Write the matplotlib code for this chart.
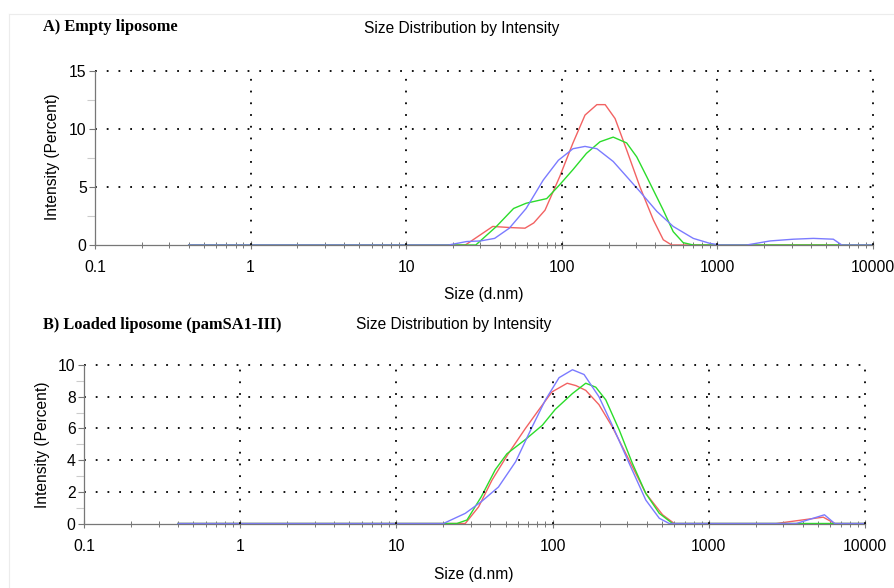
import numpy as np
import matplotlib
matplotlib.use('Agg')
import matplotlib.pyplot as plt
from matplotlib.lines import Line2D
from matplotlib.ticker import FixedLocator, NullFormatter

plt.rcParams['font.family'] = ['Liberation Sans', 'DejaVu Sans']

# Panel A: empty liposome (three runs)
size_a_red = [0.4, 24, 36, 47, 58, 66, 78, 97, 118, 141, 168, 190, 220, 261, 318, 388, 449, 508, 10000]
int_a_red = [0, 0, 1.6, 1.5, 1.45, 1.9, 3.0, 5.9, 8.8, 11.2, 12.1, 12.1, 10.9, 8.2, 5.0, 2.15, 0.45, 0, 0]
size_a_green = [0.4, 28, 38, 49, 59, 80, 97, 118, 144, 176, 214, 261, 303, 351, 449, 520, 603, 700, 10000]
int_a_green = [0, 0, 1.6, 3.15, 3.6, 4.0, 5.2, 6.5, 7.9, 8.9, 9.3, 8.8, 7.6, 5.9, 3.0, 1.15, 0.2, 0, 0]
size_a_blue = [0.4, 18.7, 24.5, 30, 37, 46, 59, 76, 95, 118, 141, 168, 214, 261, 318, 408, 520, 700,
               895, 1040, 1540, 2180, 3080, 4140, 5560, 6300, 10000]
int_a_blue = [0, 0, 0.3, 0.35, 0.57, 1.45, 3.15, 5.6, 7.3, 8.3, 8.5, 8.3, 7.2, 5.9, 4.6, 2.9, 1.6, 0.57,
              0.14, 0, 0, 0.35, 0.5, 0.57, 0.5, 0, 0]

# Panel B: loaded liposome (pamSA1-III)
size_b_red = [0.4, 27.6, 33.6, 41, 52, 67, 82, 99, 124, 141, 163, 198, 241, 309, 395, 506, 601,
              2700, 5400, 6400, 10000]
int_b_red = [0, 0, 1.05, 2.75, 4.4, 6.0, 7.2, 8.3, 8.85, 8.7, 8.4, 7.5, 6.1, 4.0, 1.9, 0.55, 0,
             0, 0.4, 0, 0]
size_b_green = [0.4, 24.4, 28.3, 35, 43, 51, 67, 86, 104, 134, 163, 189, 219, 267, 324, 395, 482, 586, 10000]
int_b_green = [0, 0, 0.22, 1.7, 3.4, 4.4, 5.3, 6.2, 7.2, 8.2, 8.85, 8.6, 7.8, 5.9, 3.8, 1.9, 0.64, 0, 0]
size_b_blue = [0.4, 20, 27.6, 35, 45, 58, 74, 90, 110, 134, 159, 198, 241, 309, 395, 482, 558,
               3630, 5500, 6400, 10000]
int_b_blue = [0, 0, 0.64, 1.38, 2.3, 3.9, 6.1, 7.8, 9.2, 9.7, 9.4, 8.0, 6.2, 3.8, 1.48, 0.33, 0,
              0, 0.55, 0, 0]

x_ticks = [0.1, 1, 10, 100, 1000, 10000]
x_labels = ['0.1', '1', '10', '100', '1000', '10000']

W, H = 894, 588
fig = plt.figure(figsize=(W/100, H/100), dpi=100)
fx = lambda p: p/W
fy = lambda p: 1 - p/H

# faint frame of the original screenshot
fig.add_artist(Line2D([fx(9), 1], [fy(14), fy(14)], color='#ececec', lw=0.8))
fig.add_artist(Line2D([fx(9), fx(9)], [0, fy(14)], color='#ececec', lw=0.8))

RED, GREEN, BLUE = '#f26262', '#2bdc2b', '#7b7bff'
grid_kw = dict(color='black', lw=1.3, linestyle=(0, (1, 5.5)))


def panel(rect, series, ymax, ystep, yminor):
    ax = fig.add_axes(rect)
    ax.set_xscale('log')
    ax.set_xlim(0.1, 10000)
    ax.set_ylim(0, ymax)
    for s, v, c in series:
        ax.plot(s, v, color=c, lw=1.0)
    ax.set_xticks(x_ticks)
    ax.set_xticklabels(x_labels)
    ax.xaxis.set_minor_locator(FixedLocator([m*10.0**e for e in range(-1, 4) for m in range(2, 10)]))
    ax.xaxis.set_minor_formatter(NullFormatter())
    yt = np.arange(0, ymax + 0.1, ystep)
    ax.set_yticks(yt)
    ax.set_yticklabels([f'{int(t)}' for t in yt])
    ax.set_yticks(yminor, minor=True)
    for t in yt[1:]:
        ax.axhline(t, **grid_kw, clip_on=False)
    for t in x_ticks[1:]:
        ax.axvline(t, **grid_kw, clip_on=False)
    for sp in ['top', 'right']:
        ax.spines[sp].set_visible(False)
    for sp in ['left', 'bottom']:
        ax.spines[sp].set_color('#777777')
        ax.spines[sp].set_linewidth(0.9)
    ax.tick_params(axis='both', which='major', labelsize=11.3, colors='#777777', labelcolor='black',
                   length=4, width=0.8)
    ax.tick_params(axis='x', which='major', direction='inout', length=6, pad=8)
    ax.tick_params(axis='x', which='minor', direction='inout', length=5, width=0.7, colors='#777777')
    ax.tick_params(axis='y', which='minor', direction='out', length=6, width=0.8, colors='#cccccc')
    ax.tick_params(axis='y', which='major', pad=2)
    return ax


panel([fx(95), fy(245), fx(873) - fx(95), fy(71) - fy(245)],
      [(size_a_red, int_a_red, RED), (size_a_green, int_a_green, GREEN), (size_a_blue, int_a_blue, BLUE)],
      15, 5, [2.5, 7.5, 12.5])
panel([fx(84), fy(523.5), fx(865) - fx(84), fy(365) - fy(523.5)],
      [(size_b_red, int_b_red, RED), (size_b_green, int_b_green, GREEN), (size_b_blue, int_b_blue, BLUE)],
      10, 2, [1, 3, 5, 7, 9])

serif = ['Liberation Serif', 'DejaVu Serif']
fig.text(fx(43), fy(27), 'A) Empty liposome', family=serif, fontweight='bold', fontsize=11.8, va='center')
fig.text(fx(462), fy(28), 'Size Distribution by Intensity', fontsize=11.2, ha='center', va='center')
fig.text(fx(52), fy(157), 'Intensity (Percent)', fontsize=11.2, rotation=90, ha='center', va='center')
fig.text(fx(484), fy(294), 'Size (d.nm)', fontsize=11.2, ha='center', va='center')

fig.text(fx(43), fy(325), 'B) Loaded liposome (pamSA1-III)', family=serif, fontweight='bold', fontsize=11.8, va='center')
fig.text(fx(454), fy(325), 'Size Distribution by Intensity', fontsize=11.2, ha='center', va='center')
fig.text(fx(43), fy(445), 'Intensity (Percent)', fontsize=11.2, rotation=90, ha='center', va='center')
fig.text(fx(474), fy(574), 'Size (d.nm)', fontsize=11.2, ha='center', va='center')

fig.savefig('out.png', dpi=100)
